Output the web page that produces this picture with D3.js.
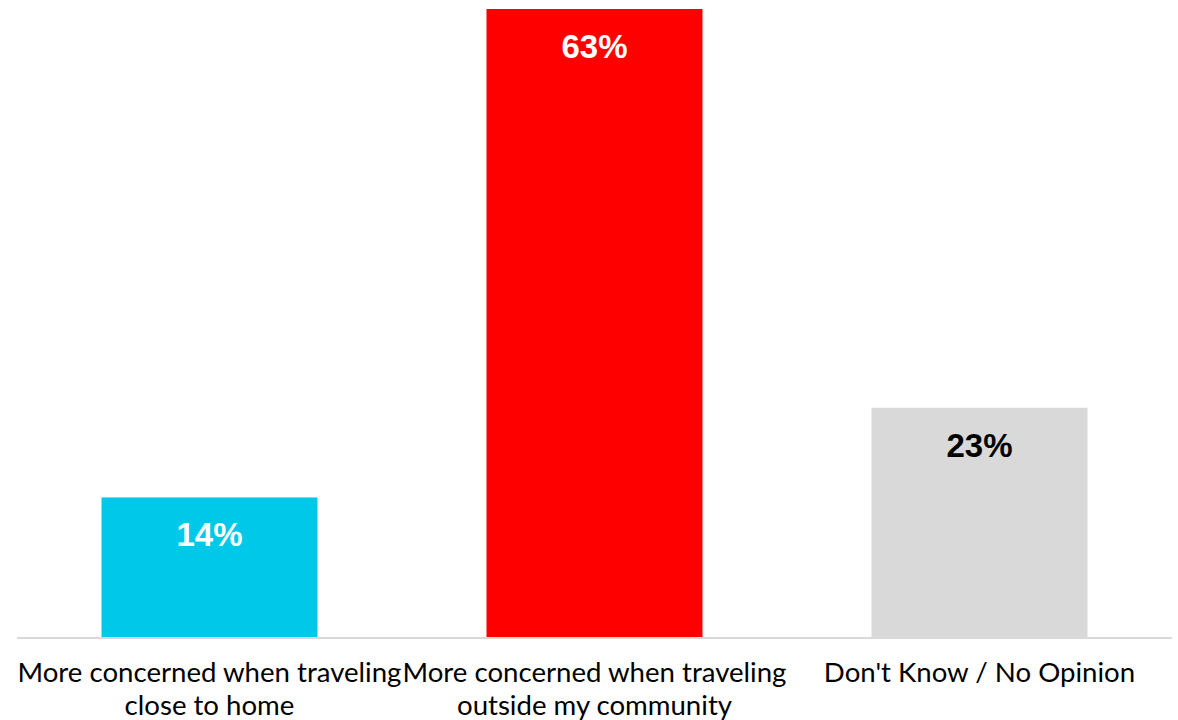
<!DOCTYPE html>
<html>
<head>
<meta charset="utf-8">
<script src="https://cdn.jsdelivr.net/npm/d3@7"></script>
<style>
  html, body { margin: 0; padding: 0; background: #fff; }
  svg { display: block; }
</style>
</head>
<body>
<svg id="chart" width="1178" height="720"></svg>
<script>
const categories = [
  ["More concerned when traveling", "close to home"],
  ["More concerned when traveling", "outside my community"],
  ["Don't Know / No Opinion"]
];
const values = [14, 63, 23];
const colors = ["#00c8e8", "#ff0000", "#d9d9d9"];
const labelColors = ["#ffffff", "#ffffff", "#000000"];
const valueLabels = ["14%", "63%", "23%"];

const svg = d3.select("#chart");
const margin = { left: 17, right: 6, top: 9, bottom: 83 };
const W = 1178, H = 720;
const baseY = H - margin.bottom;

const x = d3.scaleBand()
  .domain(d3.range(values.length))
  .range([margin.left, W - margin.right])
  .paddingInner(0.439)
  .paddingOuter(0.2195);

const y = d3.scaleLinear()
  .domain([0, 63])
  .range([baseY, margin.top]);

svg.selectAll("rect.bar")
  .data(values)
  .join("rect")
  .attr("class", "bar")
  .attr("x", (d, i) => x(i))
  .attr("y", d => y(d))
  .attr("width", x.bandwidth())
  .attr("height", d => y(0) - y(d))
  .attr("fill", (d, i) => colors[i]);

svg.append("line")
  .attr("x1", margin.left).attr("x2", W - margin.right)
  .attr("y1", baseY + 1).attr("y2", baseY + 1)
  .attr("stroke", "#d9d9d9").attr("stroke-width", 2);

svg.selectAll("text.val")
  .data(values)
  .join("text")
  .attr("class", "val")
  .attr("x", (d, i) => x(i) + x.bandwidth() / 2)
  .attr("y", d => y(d) + 49)
  .attr("text-anchor", "middle")
  .attr("font-family", "Liberation Sans, Arial, sans-serif")
  .attr("font-weight", "bold")
  .attr("font-size", 33)
  .attr("fill", (d, i) => labelColors[i])
  .text((d, i) => valueLabels[i]);

const cat = svg.selectAll("text.cat")
  .data(categories)
  .join("text")
  .attr("class", "cat")
  .attr("x", (d, i) => x(i) + x.bandwidth() / 2)
  .attr("y", baseY + 45)
  .attr("text-anchor", "middle")
  .attr("font-family", "Lato, 'Noto Sans', sans-serif")
  .attr("font-size", 27.6)
  .attr("fill", "#000");

cat.selectAll("tspan")
  .data(d => d)
  .join("tspan")
  .attr("x", function() { return d3.select(this.parentNode).attr("x"); })
  .attr("dy", (d, j) => j === 0 ? 0 : 33)
  .text(d => d);
</script>
</body>
</html>
